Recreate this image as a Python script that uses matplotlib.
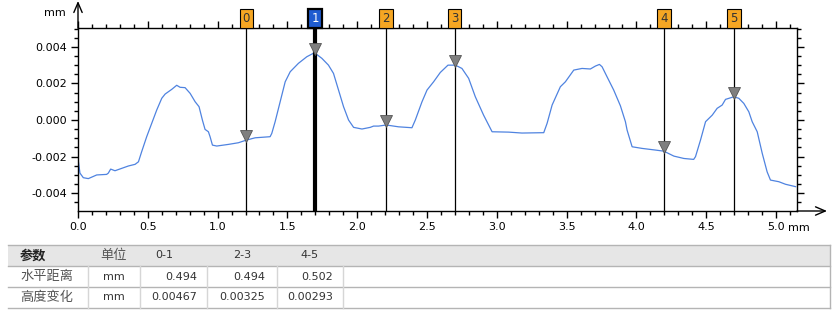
import numpy as np
import matplotlib
matplotlib.use("Agg")
import matplotlib.pyplot as plt
from matplotlib.ticker import MultipleLocator, FormatStrFormatter
from matplotlib import transforms

plt.rcParams['font.family'] = ['DejaVu Sans', 'Noto Sans CJK SC']
plt.rcParams['axes.unicode_minus'] = False

# 轮廓数据 (mm)
profile_x = [0.000, 0.014, 0.038, 0.074, 0.134, 0.205, 0.217, 0.234, 0.265, 0.313,
             0.361, 0.409, 0.433, 0.456, 0.492, 0.528, 0.564, 0.600, 0.624, 0.672,
             0.707, 0.731, 0.767, 0.803, 0.839, 0.867, 0.891, 0.910, 0.934, 0.946,
             0.963, 0.994, 1.078, 1.149, 1.204, 1.269, 1.340, 1.376, 1.388, 1.412,
             1.448, 1.484, 1.520, 1.579, 1.639, 1.694, 1.747, 1.794, 1.830, 1.866,
             1.902, 1.938, 1.974, 2.034, 2.093, 2.117, 2.153, 2.208, 2.296, 2.392,
             2.416, 2.464, 2.500, 2.547, 2.595, 2.650, 2.703, 2.750, 2.798, 2.846,
             2.905, 2.966, 3.085, 3.180, 3.336, 3.360, 3.396, 3.455, 3.491, 3.551,
             3.610, 3.670, 3.706, 3.735, 3.754, 3.789, 3.837, 3.885, 3.921, 3.933,
             3.969, 4.041, 4.136, 4.196, 4.268, 4.340, 4.410, 4.423, 4.459, 4.495,
             4.543, 4.578, 4.614, 4.638, 4.697, 4.733, 4.769, 4.805, 4.829, 4.865,
             4.901, 4.936, 4.960, 5.020, 5.068, 5.140]
profile_y = [-0.00210, -0.00290, -0.00315, -0.00320, -0.00300, -0.00297, -0.00290, -0.00268, -0.00277, -0.00264,
             -0.00251, -0.00242, -0.00228, -0.00173, -0.00091, -0.00018, 0.00055, 0.00119, 0.00142, 0.00168,
             0.00190, 0.00179, 0.00177, 0.00146, 0.00100, 0.00073, 0.00000, -0.00051, -0.00064, -0.00091,
             -0.00137, -0.00142, -0.00133, -0.00124, -0.00110, -0.00097, -0.00093, -0.00091, -0.00073, -0.00009,
             0.00100, 0.00209, 0.00264, 0.00310, 0.00346, 0.00368, 0.00337, 0.00300, 0.00255, 0.00164,
             0.00073, 0.00000, -0.00040, -0.00049, -0.00040, -0.00033, -0.00033, -0.00027, -0.00037, -0.00042,
             0.00000, 0.00100, 0.00164, 0.00209, 0.00260, 0.00300, 0.00300, 0.00282, 0.00228, 0.00127,
             0.00027, -0.00064, -0.00066, -0.00071, -0.00069, -0.00018, 0.00082, 0.00182, 0.00209, 0.00273,
             0.00282, 0.00279, 0.00295, 0.00304, 0.00291, 0.00237, 0.00164, 0.00078, -0.00009, -0.00055,
             -0.00146, -0.00155, -0.00164, -0.00170, -0.00197, -0.00210, -0.00215, -0.00200, -0.00109, -0.00009,
             0.00027, 0.00064, 0.00082, 0.00113, 0.00127, 0.00119, 0.00091, 0.00045, -0.00009, -0.00064,
             -0.00182, -0.00283, -0.00328, -0.00337, -0.00351, -0.00364]

# 光标位置
cursor_x = [1.205, 1.699, 2.205, 2.699, 4.197, 4.699]
cursor_labels = ['0', '1', '2', '3', '4', '5']
active_cursor = 1

# 结果表
table_header = ['参数', '单位', '0-1', '2-3', '4-5']
row_names = ['水平距离', '高度变化']
row_units = ['mm', 'mm']
row_values = [['0.494', '0.494', '0.502'],
              ['0.00467', '0.00325', '0.00293']]

W, H = 839, 314
fig = plt.figure(figsize=(W / 100, H / 100), dpi=100)
ax = fig.add_axes([78 / W, 1 - 211 / H, (797 - 78) / W, (211 - 28) / H])

ax.plot(profile_x, profile_y, color='#4f83e0', lw=0.9)
ax.set_xlim(0, 5.15)
ax.set_ylim(-0.00497, 0.00503)

ax.xaxis.set_major_locator(MultipleLocator(0.5))
ax.xaxis.set_minor_locator(MultipleLocator(0.1))
ax.yaxis.set_major_locator(MultipleLocator(0.002))
ax.yaxis.set_minor_locator(MultipleLocator(0.0005))
ax.xaxis.set_major_formatter(FormatStrFormatter('%.1f'))
ax.yaxis.set_major_formatter(FormatStrFormatter('%.3f'))
ax.tick_params(which='both', direction='out', top=True, right=True, width=1, labelsize=8, pad=3)
ax.tick_params(which='major', length=5)
ax.tick_params(which='minor', length=3)
for s in ax.spines.values():
    s.set_linewidth(1)

# 光标线
tri_off = transforms.offset_copy(ax.transData, fig, y=4, units='dots')
cursor_y = np.interp(cursor_x, profile_x, profile_y)
for i, (cx, lab) in enumerate(zip(cursor_x, cursor_labels)):
    active = i == active_cursor
    ax.axvline(cx, color='black', lw=3 if active else 0.9, zorder=3)
    ax.plot(cx, cursor_y[i], marker='v', ms=8, color='#7f7f7f', mec='#555555', mew=0.6,
            transform=tri_off, zorder=4, clip_on=False)
    ax.annotate(lab, xy=(cx, 1), xycoords=('data', 'axes fraction'), xytext=(0, 2.2),
                textcoords='offset points', ha='center', va='bottom', fontsize=8.5,
                color='white' if active else '#333333',
                bbox=dict(boxstyle='square,pad=0.25', fc='#1f5cd0' if active else '#f5a623',
                          ec='black', lw=1.6 if active else 0.8))

# 覆盖层：箭头、单位与表格 (像素坐标)
ov = fig.add_axes([0, 0, 1, 1])
ov.set_xlim(0, W)
ov.set_ylim(H, 0)
ov.axis('off')
ov.patch.set_alpha(0)

arrow = dict(arrowstyle='->,head_length=0.7,head_width=0.3', lw=1, color='black', shrinkA=0, shrinkB=0)
ov.annotate('', xy=(78, 1), xytext=(78, 28), arrowprops=arrow)
ov.annotate('', xy=(827, 211), xytext=(797, 211), arrowprops=arrow)
ov.text(55, 13, 'mm', fontsize=8, ha='center', va='center')
ov.text(788, 228, 'mm', fontsize=8, ha='left', va='center')

# 表格
tx0, tx1 = 8, 830
row_y = [245, 266, 287, 308]
col_lines = [88, 140, 207, 277, 343]
ov.fill_between([tx0, tx1], row_y[0], row_y[1], color='#e6e6e6', lw=0)
for y in row_y:
    ov.plot([tx0, tx1], [y, y], color='#b4b4b4', lw=1)
ov.plot([tx1, tx1], [row_y[0], row_y[-1]], color='#b4b4b4', lw=1)
for cx in col_lines:
    ov.plot([cx, cx], [row_y[1], row_y[-1]], color='#d6d6d6', lw=1)

cjk = ['Noto Sans CJK SC', 'DejaVu Sans']
hy = (row_y[0] + row_y[1]) / 2
ov.text(20, hy, table_header[0], family=cjk, fontsize=9.5, weight='bold', va='center', color='#222222')
ov.text(100, hy, table_header[1], family=cjk, fontsize=9.5, va='center', color='#555555')
for lab, x in zip(table_header[2:], [155, 233, 300]):
    ov.text(x, hy, lab, fontsize=8, va='center', color='#333333')

val_right = [197, 265, 333]
for r in range(len(row_names)):
    yc = (row_y[r + 1] + row_y[r + 2]) / 2
    ov.text(20, yc, row_names[r], family=cjk, fontsize=9.5, va='center', color='#555555')
    ov.text(114, yc, row_units[r], fontsize=8, ha='center', va='center', color='#333333')
    for v, xr in zip(row_values[r], val_right):
        ov.text(xr, yc, v, fontsize=8, ha='right', va='center', color='#333333')

fig.savefig('out.png', dpi=100)
